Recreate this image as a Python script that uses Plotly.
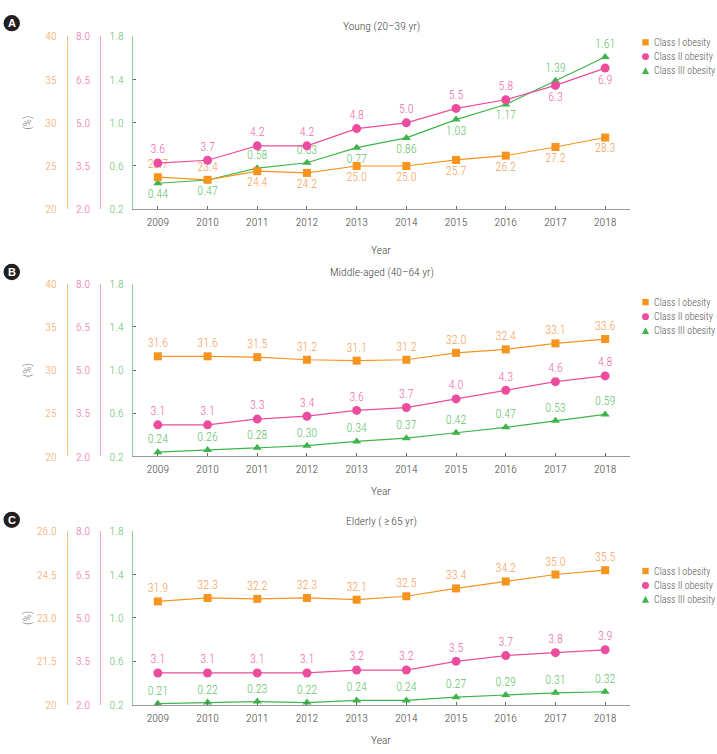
import plotly.graph_objects as go

W, H = 717, 754

years = [2009, 2010, 2011, 2012, 2013, 2014, 2015, 2016, 2017, 2018]
series_names = ["Class I obesity", "Class II obesity", "Class III obesity"]

panel_titles = ["Young (20\u201339 yr)", "Middle-aged (40\u201364 yr)", "Elderly (\u2009\u2265\u200965 yr)"]
panel_letters = ["A", "B", "C"]

# Young
young_c1 = [23.7, 23.4, 24.4, 24.2, 25.0, 25.0, 25.7, 26.2, 27.2, 28.3]
young_c2 = [3.6, 3.7, 4.2, 4.2, 4.8, 5.0, 5.5, 5.8, 6.3, 6.9]
young_c3 = [0.44, 0.47, 0.58, 0.63, 0.77, 0.86, 1.03, 1.17, 1.39, 1.61]
# Middle-aged
mid_c1 = [31.6, 31.6, 31.5, 31.2, 31.1, 31.2, 32.0, 32.4, 33.1, 33.6]
mid_c2 = [3.1, 3.1, 3.3, 3.4, 3.6, 3.7, 4.0, 4.3, 4.6, 4.8]
mid_c3 = [0.24, 0.26, 0.28, 0.30, 0.34, 0.37, 0.42, 0.47, 0.53, 0.59]
# Elderly
old_c1 = [31.9, 32.3, 32.2, 32.3, 32.1, 32.5, 33.4, 34.2, 35.0, 35.5]
old_c2 = [3.1, 3.1, 3.1, 3.1, 3.2, 3.2, 3.5, 3.7, 3.8, 3.9]
old_c3 = [0.21, 0.22, 0.23, 0.22, 0.24, 0.24, 0.27, 0.29, 0.31, 0.32]

panels = [
    (young_c1, young_c2, young_c3),
    (mid_c1, mid_c2, mid_c3),
    (old_c1, old_c2, old_c3),
]

decimals = [1, 1, 2]

T, B = "top center", "bottom center"
label_pos = [
    ([T, T, B, B, B, B, B, B, B, B], [T] * 8 + [B, B], [B, B, T, T, B, B, B, B, T, T]),
    ([T] * 10, [T] * 10, [T] * 10),
    ([T] * 10, [T] * 10, [T] * 10),
]

c1_range = [20, 40]
c1_ticks = [20, 25, 30, 35, 40]
c1_ticktext = [
    ["20", "25", "30", "35", "40"],
    ["20", "25", "30", "35", "40"],
    ["20", "21.5", "23.0", "24.5", "26.0"],
]
c2_range = [2, 8]
c2_ticks = [2.0, 3.5, 5.0, 6.5, 8.0]
c2_ticktext = ["2.0", "3.5", "5.0", "6.5", "8.0"]
c3_range = [0.2, 1.8]
c3_ticks = [0.2, 0.6, 1.0, 1.4, 1.8]
c3_ticktext = ["0.2", "0.6", "1.0", "1.4", "1.8"]

FONT = "Roboto Condensed, Liberation Sans Narrow, Arial Narrow, Liberation Sans, sans-serif"
FW = 300
FS = 11.5
ORANGE = "#F7941D"
ORANGE_T = "#F6A25A"
ORANGE_L = "#F8BD82"
PINK = "#EC4C9D"
PINK_T = "#EE6AAE"
PINK_L = "#F3A3CA"
GREEN = "#3DB54A"
GREEN_T = "#66BF6C"
GREEN_L = "#8FD08F"
GRAY_T = "#444444"

mcolors = [ORANGE, PINK, GREEN]
tcolors = [ORANGE_T, PINK_T, GREEN_T]
symbols = ["square", "circle", "triangle-up"]
msizes = [8, 9, 8]


def px_x(p):
    return p / W


def px_y(p):
    return 1 - p / H


def fnt(size, color):
    return dict(size=size, color=color, family=FONT, weight=FW)


x_left, x_right = 133, 630
panel_px = [(30, 206), (282, 458), (534, 711)]
title_y = [19, 270, 524]
year_y = [248, 493, 747]
badge_y = [16.5, 270, 522.5]
legend_rows = [(36, 50.5, 65), (300.7, 315.5, 330), (574.7, 589.5, 603.7)]
legend_mx = 645.5
legend_tx = 651.5

fig = go.Figure()
layout = dict(
    width=W, height=H, margin=dict(l=0, r=0, t=0, b=0),
    paper_bgcolor="white", plot_bgcolor="white",
    font=fnt(FS, GRAY_T),
    annotations=[], shapes=[], showlegend=False,
)

for p in range(3):
    top, bot = panel_px[p]
    ydom = [px_y(bot), px_y(top)]
    xi = p + 1
    xname = "x" if xi == 1 else f"x{xi}"
    ygreen = 3 * p + 1
    yorange = 3 * p + 2
    ypink = 3 * p + 3
    yn = lambda i: "y" if i == 1 else f"y{i}"
    ykey = lambda i: "yaxis" if i == 1 else f"yaxis{i}"
    xkey = "xaxis" if xi == 1 else f"xaxis{xi}"

    layout[xkey] = dict(
        domain=[px_x(x_left), px_x(x_right)], anchor=yn(ygreen),
        range=[2008.5, 2018.5], tickvals=years, ticktext=[str(y) for y in years],
        ticks="inside", ticklen=3, tickcolor="#666", tickwidth=1,
        showline=True, linecolor="#999", linewidth=1.3,
        showgrid=False, zeroline=False, ticklabelstandoff=2,
        tickfont=fnt(FS, GRAY_T),
    )
    layout[ykey(ygreen)] = dict(
        domain=ydom, anchor=xname, range=c3_range,
        tickvals=c3_ticks, ticktext=c3_ticktext,
        ticks="inside", ticklen=3, tickcolor="#666",
        showline=True, linecolor=GREEN_L, linewidth=1.3,
        showgrid=False, zeroline=False, ticklabelstandoff=6,
        tickfont=fnt(FS, GREEN_T),
    )
    layout[ykey(yorange)] = dict(
        domain=ydom, overlaying=yn(ygreen), anchor="free", position=px_x(67),
        side="left", range=c1_range, tickvals=c1_ticks, ticktext=c1_ticktext[p],
        ticks="", showline=True, linecolor=ORANGE_L, linewidth=1.3,
        showgrid=False, zeroline=False, ticklabelstandoff=8,
        tickfont=fnt(FS, ORANGE_T),
    )
    layout[ykey(ypink)] = dict(
        domain=ydom, overlaying=yn(ygreen), anchor="free", position=px_x(99.5),
        side="left", range=c2_range, tickvals=c2_ticks, ticktext=c2_ticktext,
        ticks="", showline=True, linecolor=PINK_L, linewidth=1.3,
        showgrid=False, zeroline=False, ticklabelstandoff=7,
        tickfont=fnt(FS, PINK_T),
    )

    yaxes_for = [yn(yorange), yn(ypink), yn(ygreen)]
    for s in range(3):
        vals = panels[p][s]
        fmt = "{:.%df}" % decimals[s]
        fig.add_trace(go.Scatter(
            x=years, y=vals, xaxis=xname, yaxis=yaxes_for[s],
            mode="lines+markers+text", name=series_names[s],
            text=[fmt.format(v) for v in vals],
            textposition=label_pos[p][s],
            textfont=fnt(FS + 0.5, tcolors[s]),
            line=dict(color=mcolors[s], width=1.2),
            marker=dict(color=mcolors[s], symbol=symbols[s], size=msizes[s]),
            showlegend=False, cliponaxis=False,
        ))

    for s in range(3):
        cy = legend_rows[p][s]
        cx = legend_mx
        r = 3.2
        if s == 0:
            layout["shapes"].append(dict(
                type="rect", xref="paper", yref="paper",
                x0=px_x(cx - r), x1=px_x(cx + r), y0=px_y(cy + r), y1=px_y(cy - r),
                fillcolor=mcolors[s], line=dict(width=0)))
        elif s == 1:
            layout["shapes"].append(dict(
                type="circle", xref="paper", yref="paper",
                x0=px_x(cx - r - 0.3), x1=px_x(cx + r + 0.3), y0=px_y(cy + r + 0.3), y1=px_y(cy - r - 0.3),
                fillcolor=mcolors[s], line=dict(width=0)))
        else:
            path = "M %f %f L %f %f L %f %f Z" % (
                px_x(cx - r - 0.4), px_y(cy + r),
                px_x(cx + r + 0.4), px_y(cy + r),
                px_x(cx), px_y(cy - r - 0.4))
            layout["shapes"].append(dict(
                type="path", xref="paper", yref="paper", path=path,
                fillcolor=mcolors[s], line=dict(width=0)))
        layout["annotations"].append(dict(
            text=series_names[s], x=px_x(legend_tx), y=px_y(cy), xref="paper", yref="paper",
            showarrow=False, xanchor="left", yanchor="middle",
            font=fnt(10, "#555"),
        ))

    layout["annotations"].append(dict(
        text=panel_titles[p], x=px_x(382), y=px_y(title_y[p]), xref="paper", yref="paper",
        showarrow=False, xanchor="center", yanchor="middle",
        font=fnt(11.5, GRAY_T),
    ))
    layout["annotations"].append(dict(
        text="Year", x=px_x(381), y=px_y(year_y[p]), xref="paper", yref="paper",
        showarrow=False, xanchor="center", yanchor="middle",
        font=fnt(11.5, GRAY_T),
    ))
    layout["annotations"].append(dict(
        text="(%)", x=px_x(27), y=px_y((top + bot) / 2), xref="paper", yref="paper",
        showarrow=False, xanchor="center", yanchor="middle", textangle=-90,
        font=fnt(11.5, "#777"),
    ))
    cy = badge_y[p]
    layout["shapes"].append(dict(
        type="circle", xref="paper", yref="paper",
        x0=px_x(3.5), x1=px_x(20), y0=px_y(cy + 8.3), y1=px_y(cy - 8.3),
        fillcolor="#231F20", line=dict(width=0),
    ))
    layout["annotations"].append(dict(
        text="<b>%s</b>" % panel_letters[p], x=px_x(11.8), y=px_y(cy), xref="paper", yref="paper",
        showarrow=False, xanchor="center", yanchor="middle",
        font=dict(size=11, color="white", family="Liberation Sans, Arial, sans-serif"),
    ))

fig.update_layout(**layout)
fig.write_html("out.html")
